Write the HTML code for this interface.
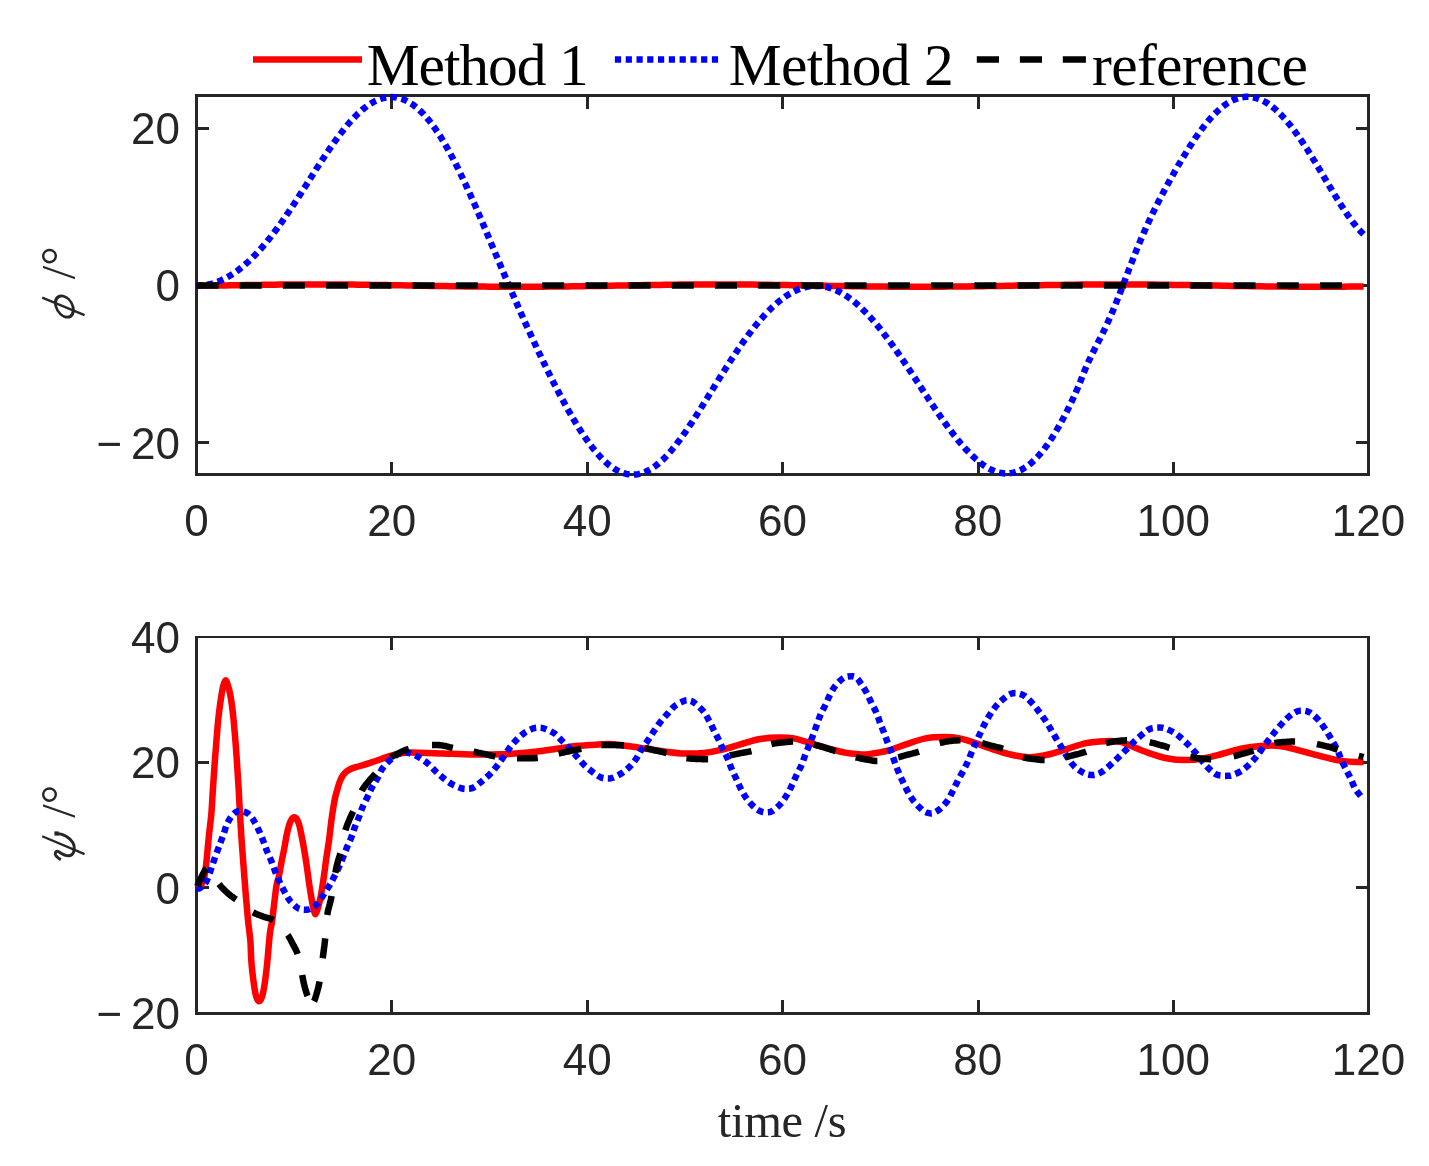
<!DOCTYPE html>
<html><head><meta charset="utf-8"><title>plot</title>
<style>html,body{margin:0;padding:0;background:#fff;width:1429px;height:1166px;overflow:hidden}svg{display:block;will-change:transform}</style>
</head><body>
<svg width="1429" height="1166" viewBox="0 0 1429 1166">
<rect width="1429" height="1166" fill="#fff"/>
<path d="M195,94h1175v3h-1175zM195,473h1175v3h-1175zM195,94h3v382h-3zM1367,94h3v382h-3zM390,97h3v12h-3zM390,462h3v11h-3zM586,97h3v12h-3zM586,462h3v11h-3zM781,97h3v12h-3zM781,462h3v11h-3zM977,97h3v12h-3zM977,462h3v11h-3zM1172,97h3v12h-3zM1172,462h3v11h-3zM198,127h11v3h-11zM1356,127h11v3h-11zM198,284h11v3h-11zM1356,284h11v3h-11zM198,441h11v3h-11zM1356,441h11v3h-11z" fill="#262626" shape-rendering="crispEdges"/>

<path d="M196.5,285.6 L201.4,285.6 L206.3,285.7 L211.2,285.6 L216.0,285.6 L220.9,285.5 L225.8,285.4 L230.7,285.3 L235.6,285.2 L240.4,285.2 L245.3,285.1 L250.2,285.0 L255.1,284.9 L260.0,284.9 L264.9,284.8 L269.8,284.7 L274.6,284.7 L279.5,284.6 L284.4,284.6 L289.3,284.5 L294.2,284.5 L299.1,284.5 L303.9,284.4 L308.8,284.4 L313.7,284.4 L318.6,284.4 L323.5,284.4 L328.4,284.4 L333.2,284.5 L338.1,284.5 L343.0,284.5 L347.9,284.6 L352.8,284.6 L357.6,284.7 L362.5,284.7 L367.4,284.8 L372.3,284.9 L377.2,284.9 L382.1,285.0 L386.9,285.1 L391.8,285.2 L396.7,285.2 L401.6,285.3 L406.5,285.4 L411.4,285.5 L416.2,285.6 L421.1,285.7 L426.0,285.8 L430.9,285.9 L435.8,286.0 L440.7,286.0 L445.6,286.1 L450.4,286.2 L455.3,286.3 L460.2,286.3 L465.1,286.4 L470.0,286.5 L474.9,286.5 L479.7,286.6 L484.6,286.6 L489.5,286.7 L494.4,286.7 L499.3,286.7 L504.1,286.8 L509.0,286.8 L513.9,286.8 L518.8,286.8 L523.7,286.8 L528.6,286.8 L533.5,286.7 L538.3,286.7 L543.2,286.7 L548.1,286.6 L553.0,286.6 L557.9,286.5 L562.8,286.5 L567.6,286.4 L572.5,286.3 L577.4,286.3 L582.3,286.2 L587.2,286.1 L592.0,286.0 L596.9,286.0 L601.8,285.9 L606.7,285.8 L611.6,285.7 L616.5,285.6 L621.4,285.5 L626.2,285.4 L631.1,285.3 L636.0,285.2 L640.9,285.2 L645.8,285.1 L650.6,285.0 L655.5,284.9 L660.4,284.9 L665.3,284.8 L670.2,284.7 L675.1,284.7 L680.0,284.6 L684.8,284.6 L689.7,284.5 L694.6,284.5 L699.5,284.5 L704.4,284.4 L709.2,284.4 L714.1,284.4 L719.0,284.4 L723.9,284.4 L728.8,284.4 L733.7,284.5 L738.5,284.5 L743.4,284.5 L748.3,284.6 L753.2,284.6 L758.1,284.7 L763.0,284.7 L767.9,284.8 L772.7,284.9 L777.6,284.9 L782.5,285.0 L787.4,285.1 L792.3,285.2 L797.1,285.2 L802.0,285.3 L806.9,285.4 L811.8,285.5 L816.7,285.6 L821.6,285.7 L826.5,285.8 L831.3,285.9 L836.2,286.0 L841.1,286.0 L846.0,286.1 L850.9,286.2 L855.8,286.3 L860.6,286.3 L865.5,286.4 L870.4,286.5 L875.3,286.5 L880.2,286.6 L885.0,286.6 L889.9,286.7 L894.8,286.7 L899.7,286.7 L904.6,286.8 L909.5,286.8 L914.4,286.8 L919.2,286.8 L924.1,286.8 L929.0,286.8 L933.9,286.7 L938.8,286.7 L943.6,286.7 L948.5,286.6 L953.4,286.6 L958.3,286.5 L963.2,286.5 L968.1,286.4 L973.0,286.3 L977.8,286.3 L982.7,286.2 L987.6,286.1 L992.5,286.0 L997.4,286.0 L1002.2,285.9 L1007.1,285.8 L1012.0,285.7 L1016.9,285.6 L1021.8,285.5 L1026.7,285.4 L1031.5,285.3 L1036.4,285.2 L1041.3,285.2 L1046.2,285.1 L1051.1,285.0 L1056.0,284.9 L1060.8,284.9 L1065.7,284.8 L1070.6,284.7 L1075.5,284.7 L1080.4,284.6 L1085.3,284.6 L1090.2,284.5 L1095.0,284.5 L1099.9,284.5 L1104.8,284.4 L1109.7,284.4 L1114.6,284.4 L1119.5,284.4 L1124.3,284.4 L1129.2,284.4 L1134.1,284.5 L1139.0,284.5 L1143.9,284.5 L1148.8,284.6 L1153.6,284.6 L1158.5,284.7 L1163.4,284.7 L1168.3,284.8 L1173.2,284.9 L1178.0,284.9 L1182.9,285.0 L1187.8,285.1 L1192.7,285.2 L1197.6,285.2 L1202.5,285.3 L1207.3,285.4 L1212.2,285.5 L1217.1,285.6 L1222.0,285.7 L1226.9,285.8 L1231.8,285.9 L1236.7,286.0 L1241.5,286.0 L1246.4,286.1 L1251.3,286.2 L1256.2,286.3 L1261.1,286.3 L1266.0,286.4 L1270.8,286.5 L1275.7,286.5 L1280.6,286.6 L1285.5,286.6 L1290.4,286.7 L1295.2,286.7 L1300.1,286.7 L1305.0,286.8 L1309.9,286.8 L1314.8,286.8 L1319.7,286.8 L1324.5,286.8 L1329.4,286.8 L1334.3,286.7 L1339.2,286.7 L1344.1,286.7 L1349.0,286.6 L1353.8,286.6 L1358.7,286.5 L1363.6,286.5" fill="none" stroke="#ff0000" stroke-width="6.5" stroke-linejoin="round"/>
<path d="M196.5,285.6 L198.9,285.6 L201.4,285.6 L203.8,285.6 L206.3,285.1 L208.7,284.5 L211.2,283.9 L213.6,283.2 L216.0,282.3 L218.5,281.4 L220.9,280.4 L223.4,279.2 L225.8,278.0 L228.2,276.7 L230.7,275.2 L233.1,273.7 L235.6,272.0 L238.0,270.3 L240.4,268.4 L242.9,266.4 L245.3,264.3 L247.8,262.2 L250.2,259.9 L252.7,257.5 L255.1,255.0 L257.5,252.4 L260.0,249.7 L262.4,247.0 L264.9,244.1 L267.3,241.1 L269.8,238.1 L272.2,234.9 L274.6,231.7 L277.1,228.5 L279.5,225.1 L282.0,221.7 L284.4,218.2 L286.8,214.6 L289.3,211.0 L291.7,207.4 L294.2,203.7 L296.6,199.9 L299.1,196.1 L301.5,192.3 L303.9,188.5 L306.4,184.7 L308.8,180.8 L311.3,177.0 L313.7,173.2 L316.1,169.3 L318.6,165.5 L321.0,161.8 L323.5,158.0 L325.9,154.3 L328.4,150.7 L330.8,147.1 L333.2,143.6 L335.7,140.2 L338.1,136.9 L340.6,133.6 L343.0,130.5 L345.4,127.4 L347.9,124.5 L350.3,121.7 L352.8,119.0 L355.2,116.5 L357.6,114.0 L360.1,111.8 L362.5,109.6 L365.0,107.7 L367.4,105.8 L369.9,104.2 L372.3,102.7 L374.7,101.3 L377.2,100.2 L379.6,99.2 L382.1,98.4 L384.5,97.8 L386.9,97.4 L389.4,97.1 L391.8,97.1 L394.3,97.2 L396.7,97.5 L399.2,98.1 L401.6,98.8 L404.0,99.7 L406.5,100.8 L408.9,102.1 L411.4,103.6 L413.8,105.4 L416.2,107.3 L418.7,109.4 L421.1,111.7 L423.6,114.2 L426.0,116.9 L428.5,119.8 L430.9,122.9 L433.3,126.1 L435.8,129.6 L438.2,133.2 L440.7,137.0 L443.1,141.0 L445.6,145.1 L448.0,149.4 L450.4,153.8 L452.9,158.4 L455.3,163.1 L457.8,168.0 L460.2,173.0 L462.6,178.1 L465.1,183.3 L467.5,188.6 L470.0,194.0 L472.4,199.5 L474.9,205.0 L477.3,210.6 L479.7,216.3 L482.2,222.0 L484.6,227.8 L487.1,233.6 L489.5,239.4 L491.9,245.2 L494.4,251.0 L496.8,256.8 L499.3,262.6 L501.7,268.4 L504.1,274.1 L506.6,279.9 L509.0,285.6 L511.5,291.3 L513.9,297.0 L516.4,302.6 L518.8,308.2 L521.2,313.7 L523.7,319.2 L526.1,324.7 L528.6,330.1 L531.0,335.4 L533.5,340.8 L535.9,346.0 L538.3,351.3 L540.8,356.4 L543.2,361.5 L545.7,366.6 L548.1,371.6 L550.5,376.5 L553.0,381.4 L555.4,386.2 L557.9,390.9 L560.3,395.6 L562.8,400.1 L565.2,404.6 L567.6,409.0 L570.1,413.3 L572.5,417.5 L575.0,421.7 L577.4,425.7 L579.8,429.5 L582.3,433.3 L584.7,436.9 L587.2,440.4 L589.6,443.8 L592.0,447.0 L594.5,450.1 L596.9,453.0 L599.4,455.8 L601.8,458.4 L604.3,460.8 L606.7,463.0 L609.1,465.1 L611.6,466.9 L614.0,468.6 L616.5,470.0 L618.9,471.3 L621.4,472.4 L623.8,473.2 L626.2,473.9 L628.7,474.3 L631.1,474.6 L633.6,474.6 L636.0,474.4 L638.4,474.1 L640.9,473.5 L643.3,472.7 L645.8,471.7 L648.2,470.5 L650.6,469.2 L653.1,467.6 L655.5,465.9 L658.0,463.9 L660.4,461.8 L662.9,459.6 L665.3,457.2 L667.7,454.6 L670.2,451.8 L672.6,449.0 L675.1,446.0 L677.5,442.8 L680.0,439.6 L682.4,436.2 L684.8,432.8 L687.3,429.2 L689.7,425.6 L692.2,421.9 L694.6,418.2 L697.0,414.4 L699.5,410.5 L701.9,406.6 L704.4,402.7 L706.8,398.8 L709.2,394.8 L711.7,390.9 L714.1,386.9 L716.6,383.0 L719.0,379.0 L721.5,375.1 L723.9,371.2 L726.3,367.4 L728.8,363.6 L731.2,359.8 L733.7,356.1 L736.1,352.4 L738.5,348.8 L741.0,345.2 L743.4,341.7 L745.9,338.3 L748.3,335.0 L750.8,331.8 L753.2,328.6 L755.6,325.5 L758.1,322.6 L760.5,319.7 L763.0,316.9 L765.4,314.2 L767.9,311.6 L770.3,309.2 L772.7,306.8 L775.2,304.6 L777.6,302.5 L780.1,300.5 L782.5,298.6 L784.9,296.8 L787.4,295.2 L789.8,293.7 L792.3,292.3 L794.7,291.1 L797.1,290.0 L799.6,289.0 L802.0,288.1 L804.5,287.4 L806.9,286.8 L809.4,286.4 L811.8,286.1 L814.2,285.9 L816.7,285.9 L819.1,285.9 L821.6,286.2 L824.0,286.5 L826.5,287.0 L828.9,287.7 L831.3,288.4 L833.8,289.3 L836.2,290.3 L838.7,291.5 L841.1,292.8 L843.5,294.2 L846.0,295.7 L848.4,297.4 L850.9,299.2 L853.3,301.0 L855.8,303.1 L858.2,305.2 L860.6,307.4 L863.1,309.8 L865.5,312.2 L868.0,314.7 L870.4,317.4 L872.8,320.1 L875.3,323.0 L877.7,325.9 L880.2,328.9 L882.6,332.0 L885.0,335.2 L887.5,338.4 L889.9,341.7 L892.4,345.1 L894.8,348.5 L897.3,352.0 L899.7,355.5 L902.1,359.1 L904.6,362.7 L907.0,366.3 L909.5,370.0 L911.9,373.7 L914.4,377.4 L916.8,381.1 L919.2,384.8 L921.7,388.6 L924.1,392.3 L926.6,396.0 L929.0,399.7 L931.4,403.3 L933.9,407.0 L936.3,410.6 L938.8,414.1 L941.2,417.7 L943.6,421.1 L946.1,424.5 L948.5,427.9 L951.0,431.1 L953.4,434.3 L955.9,437.4 L958.3,440.5 L960.7,443.4 L963.2,446.2 L965.6,449.0 L968.1,451.6 L970.5,454.1 L973.0,456.5 L975.4,458.7 L977.8,460.8 L980.3,462.8 L982.7,464.6 L985.2,466.3 L987.6,467.8 L990.0,469.1 L992.5,470.3 L994.9,471.3 L997.4,472.1 L999.8,472.7 L1002.2,473.1 L1004.7,473.4 L1007.1,473.4 L1009.6,473.3 L1012.0,472.9 L1014.5,472.4 L1016.9,471.6 L1019.3,470.6 L1021.8,469.5 L1024.2,468.1 L1026.7,466.5 L1029.1,464.7 L1031.5,462.7 L1034.0,460.5 L1036.4,458.0 L1038.9,455.4 L1041.3,452.6 L1043.8,449.5 L1046.2,446.3 L1048.6,442.9 L1051.1,439.2 L1053.5,435.4 L1056.0,431.4 L1058.4,427.2 L1060.8,422.9 L1063.3,418.3 L1065.7,413.6 L1068.2,408.8 L1070.6,403.7 L1073.1,398.5 L1075.5,393.1 L1077.9,387.5 L1080.4,381.5 L1082.8,375.2 L1085.3,369.1 L1087.7,363.4 L1090.2,358.2 L1092.6,353.2 L1095.0,348.3 L1097.5,343.5 L1099.9,338.8 L1102.4,333.9 L1104.8,328.8 L1107.2,323.6 L1109.7,318.2 L1112.1,312.6 L1114.6,306.7 L1117.0,300.6 L1119.5,294.4 L1121.9,288.1 L1124.3,281.6 L1126.8,275.2 L1129.2,268.8 L1131.7,262.4 L1134.1,256.2 L1136.5,250.1 L1139.0,244.1 L1141.4,238.2 L1143.9,232.6 L1146.3,227.1 L1148.8,221.7 L1151.2,216.5 L1153.6,211.4 L1156.1,206.5 L1158.5,201.6 L1161.0,196.9 L1163.4,192.3 L1165.8,187.7 L1168.3,183.2 L1170.7,178.8 L1173.2,174.4 L1175.6,170.1 L1178.0,165.9 L1180.5,161.7 L1182.9,157.6 L1185.4,153.6 L1187.8,149.7 L1190.3,145.8 L1192.7,142.1 L1195.1,138.4 L1197.6,134.9 L1200.0,131.5 L1202.5,128.2 L1204.9,125.0 L1207.3,122.0 L1209.8,119.1 L1212.2,116.4 L1214.7,113.9 L1217.1,111.5 L1219.6,109.2 L1222.0,107.2 L1224.4,105.3 L1226.9,103.6 L1229.3,102.1 L1231.8,100.8 L1234.2,99.6 L1236.7,98.7 L1239.1,97.9 L1241.5,97.3 L1244.0,97.0 L1246.4,96.8 L1248.9,96.8 L1251.3,97.0 L1253.7,97.5 L1256.2,98.1 L1258.6,98.9 L1261.1,99.8 L1263.5,101.0 L1266.0,102.4 L1268.4,103.9 L1270.8,105.7 L1273.3,107.6 L1275.7,109.6 L1278.2,111.9 L1280.6,114.3 L1283.0,116.9 L1285.5,119.6 L1287.9,122.5 L1290.4,125.5 L1292.8,128.6 L1295.2,131.9 L1297.7,135.3 L1300.1,138.8 L1302.6,142.4 L1305.0,146.1 L1307.5,149.8 L1309.9,153.7 L1312.3,157.6 L1314.8,161.6 L1317.2,165.6 L1319.7,169.7 L1322.1,173.8 L1324.5,177.9 L1327.0,182.0 L1329.4,186.1 L1331.9,190.2 L1334.3,194.2 L1336.8,198.2 L1339.2,202.1 L1341.6,205.9 L1344.1,209.7 L1346.5,213.3 L1349.0,216.8 L1351.4,220.2 L1353.8,223.4 L1356.3,226.4 L1358.7,229.3 L1361.2,231.9 L1363.6,234.3" fill="none" stroke="#0000ff" stroke-width="6.5" stroke-dasharray="6.3 4.5"/>
<path d="M196.5,285.6h22.0M239.7,285.6h22.0M282.9,285.6h22.0M326.1,285.6h22.0M369.3,285.6h22.0M412.6,285.6h22.0M455.8,285.6h22.0M499.0,285.6h22.0M542.2,285.6h22.0M585.4,285.6h22.0M628.6,285.6h22.0M671.8,285.6h22.0M715.0,285.6h22.0M758.2,285.6h22.0M801.4,285.6h22.0M844.6,285.6h22.0M887.9,285.6h22.0M931.1,285.6h22.0M974.3,285.6h22.0M1017.5,285.6h22.0M1060.7,285.6h22.0M1103.9,285.6h22.0M1147.1,285.6h22.0M1190.3,285.6h22.0M1233.5,285.6h22.0M1276.8,285.6h22.0M1320.0,285.6h22.0" fill="none" stroke="#000000" stroke-width="6.5"/>

<path d="M195,636h1175v2h-1175zM195,1012h1175v3h-1175zM195,636h3v379h-3zM1367,636h3v379h-3zM390,638h3v12h-3zM390,1000h3v12h-3zM586,638h3v12h-3zM586,1000h3v12h-3zM781,638h3v12h-3zM781,1000h3v12h-3zM977,638h3v12h-3zM977,1000h3v12h-3zM1172,638h3v12h-3zM1172,1000h3v12h-3zM198,761h11v3h-11zM1356,761h11v3h-11zM198,886h11v3h-11zM1356,886h11v3h-11z" fill="#262626" shape-rendering="crispEdges"/>

<path d="M196.5,888.0C197.1,887.8 199.3,887.5 200.3,886.5C201.3,885.5 201.8,883.8 202.5,882.0C203.2,880.2 203.9,878.7 204.5,876.0C205.1,873.3 205.6,869.3 206.0,866.0C206.4,862.7 206.5,861.2 207.0,856.0C207.5,850.8 208.3,841.9 209.0,835.0C209.7,828.1 210.6,822.3 211.3,814.5C212.0,806.7 212.4,796.6 213.0,788.0C213.6,779.4 214.1,771.0 214.7,763.0C215.3,755.0 215.9,747.2 216.5,740.0C217.1,732.8 217.6,725.8 218.2,720.0C218.8,714.2 219.4,709.3 220.0,705.0C220.6,700.7 221.0,697.6 221.6,694.3C222.2,691.0 222.8,687.3 223.5,685.0C224.2,682.7 224.8,680.6 225.5,680.4C226.2,680.2 226.7,681.7 227.5,684.0C228.3,686.3 229.4,690.6 230.2,694.3C230.9,698.0 231.4,701.7 232.0,706.0C232.6,710.3 233.0,714.0 233.6,720.0C234.2,726.0 234.9,734.8 235.5,742.0C236.1,749.2 236.5,755.3 237.0,763.0C237.5,770.7 238.1,779.4 238.6,788.0C239.1,796.6 239.5,805.8 240.0,814.5C240.5,823.2 241.1,832.6 241.6,840.0C242.1,847.4 242.4,850.8 243.0,859.1C243.6,867.4 244.6,879.9 245.4,890.0C246.2,900.1 247.2,911.7 248.0,920.0C248.8,928.3 249.7,933.0 250.3,940.0C250.9,947.0 250.8,954.4 251.4,962.0C252.0,969.6 253.3,979.9 254.1,985.6C254.9,991.4 255.4,993.9 256.2,996.5C257.0,999.1 258.1,1001.2 259.1,1001.3C260.1,1001.4 261.1,999.6 262.0,997.0C262.9,994.4 263.5,991.3 264.4,985.6C265.3,979.9 266.3,971.7 267.2,963.0C268.1,954.3 269.1,940.4 269.9,933.4C270.7,926.4 271.0,928.7 272.1,920.8C273.2,912.9 275.3,893.1 276.4,886.0C277.5,878.9 277.6,882.3 278.5,878.3C279.4,874.3 280.6,866.9 281.5,862.0C282.4,857.1 283.4,853.1 284.2,848.8C285.0,844.5 285.7,839.9 286.5,836.0C287.3,832.1 288.2,828.2 289.0,825.5C289.8,822.8 290.6,820.9 291.5,819.5C292.4,818.1 293.3,817.3 294.2,817.3C295.1,817.3 296.1,818.0 297.0,819.5C297.9,821.0 298.7,822.9 299.5,826.0C300.3,829.1 301.2,834.2 302.0,838.0C302.8,841.8 303.2,843.9 304.0,848.8C304.8,853.6 306.0,860.9 306.9,867.1C307.8,873.3 308.6,880.3 309.5,886.0C310.4,891.7 311.3,897.4 312.0,901.4C312.7,905.4 313.2,907.9 313.8,910.0C314.4,912.1 314.8,914.3 315.4,914.3C316.0,914.3 316.6,912.1 317.3,910.0C318.0,907.9 318.9,904.9 319.7,901.4C320.5,897.9 321.3,893.3 322.0,889.0C322.7,884.7 323.2,881.0 324.0,875.7C324.8,870.4 325.6,863.0 326.5,857.0C327.4,851.0 328.3,845.5 329.1,839.7C329.9,833.9 330.5,827.4 331.2,822.0C331.9,816.6 332.7,811.4 333.4,807.1C334.1,802.8 334.8,799.1 335.5,796.0C336.2,792.9 336.9,790.8 337.7,788.3C338.4,785.8 339.1,783.1 340.0,781.0C340.9,778.9 341.8,777.0 342.9,775.4C344.0,773.8 345.1,772.6 346.5,771.5C347.9,770.4 349.1,769.5 351.4,768.6C353.6,767.7 357.1,766.9 360.0,766.0C362.9,765.1 365.8,764.3 368.6,763.4C371.4,762.5 374.1,761.5 377.0,760.5C379.9,759.5 382.9,758.3 385.7,757.4C388.5,756.5 391.1,755.7 394.0,755.0C396.9,754.3 400.3,753.5 402.9,753.1C405.5,752.7 406.5,752.7 409.4,752.6C412.2,752.5 414.3,752.6 420.0,752.8C425.7,752.9 434.8,753.2 443.4,753.5C452.0,753.8 462.3,754.4 471.7,754.5C481.1,754.6 490.6,754.6 500.0,754.3C509.4,754.0 518.9,753.5 528.4,752.6C537.9,751.7 548.8,749.9 556.7,748.8C564.6,747.7 570.1,746.6 575.6,746.0C581.1,745.4 584.5,745.3 590.0,745.0C595.5,744.7 602.6,743.9 608.9,744.1C615.2,744.3 621.5,745.2 627.8,746.0C634.1,746.8 640.4,747.9 646.7,748.8C653.0,749.7 659.3,750.8 665.6,751.6C671.9,752.4 678.2,753.3 684.5,753.5C690.8,753.7 697.1,753.6 703.4,753.0C709.7,752.4 715.9,751.2 722.2,749.7C728.5,748.2 734.8,745.9 741.1,744.1C747.4,742.3 753.7,740.1 760.0,739.0C766.3,737.9 773.2,737.6 778.9,737.5C784.6,737.4 789.3,737.6 794.0,738.4C798.7,739.2 801.9,740.6 807.3,742.2C812.7,743.8 819.9,746.2 826.2,747.9C832.5,749.6 839.5,751.5 845.1,752.6C850.7,753.7 856.0,754.0 860.0,754.3C864.0,754.5 864.3,754.7 868.9,754.1C873.5,753.5 881.5,752.4 887.8,750.7C894.1,749.0 900.4,746.2 906.7,744.1C913.0,742.0 919.3,739.6 925.6,738.4C931.9,737.2 938.8,737.1 944.5,737.1C950.2,737.1 954.9,737.5 959.6,738.4C964.3,739.2 967.4,740.5 972.8,742.2C978.1,743.9 985.4,746.8 991.7,748.8C998.0,750.8 1004.3,753.1 1010.6,754.5C1016.9,755.9 1023.2,757.3 1029.5,757.3C1035.8,757.3 1042.1,755.9 1048.4,754.5C1054.7,753.1 1061.0,750.7 1067.3,748.8C1073.6,746.9 1079.9,744.4 1086.2,743.1C1092.5,741.8 1099.4,741.4 1105.0,741.2C1110.6,741.0 1116.0,741.2 1120.0,741.8C1124.0,742.4 1124.3,743.2 1128.9,745.0C1133.5,746.8 1141.5,750.4 1147.8,752.6C1154.1,754.8 1160.4,757.0 1166.7,758.2C1173.0,759.5 1179.3,760.1 1185.6,760.1C1191.9,760.1 1198.2,759.3 1204.5,758.2C1210.8,757.1 1217.1,755.1 1223.4,753.5C1229.7,751.9 1235.9,749.6 1242.2,748.4C1248.5,747.1 1254.8,746.4 1261.1,746.0C1267.4,745.6 1273.7,745.3 1280.0,746.0C1286.3,746.7 1292.6,748.7 1298.9,750.3C1305.2,751.9 1311.5,753.8 1317.8,755.4C1324.1,757.0 1330.4,759.0 1336.7,760.1C1343.0,761.2 1351.1,761.7 1355.6,762.0C1360.1,762.3 1362.3,762.0 1363.6,762.0" fill="none" stroke="#ff0000" stroke-width="6.5" stroke-linejoin="round"/>
<path d="M196.5,888.0C197.0,888.1 198.2,888.9 199.3,888.5C200.4,888.1 201.8,886.7 203.0,885.5C204.2,884.3 205.2,883.7 206.5,881.2C207.8,878.7 209.4,873.8 210.6,870.4C211.8,867.0 212.7,864.0 213.9,860.6C215.1,857.2 216.6,853.0 217.8,849.8C219.0,846.6 219.9,844.3 220.9,841.5C221.9,838.7 223.1,835.8 224.0,833.0C224.9,830.2 225.6,827.2 226.5,825.0C227.4,822.8 228.3,821.3 229.3,819.6C230.3,817.9 231.3,816.3 232.5,815.0C233.7,813.7 234.9,812.6 236.2,811.9C237.5,811.2 238.8,810.9 240.5,811.0C242.2,811.1 244.8,811.9 246.5,812.7C248.2,813.5 249.2,814.6 250.5,816.0C251.8,817.4 252.7,818.7 254.2,821.3C255.7,823.9 257.8,828.2 259.4,831.6C261.0,835.0 262.3,838.6 263.6,841.9C264.9,845.2 265.8,848.2 267.1,851.4C268.4,854.6 270.1,858.0 271.4,861.3C272.7,864.6 273.8,868.0 275.0,871.0C276.2,874.0 277.0,876.2 278.5,879.5C280.0,882.8 282.2,887.5 284.1,891.0C286.0,894.5 287.7,897.8 289.8,900.5C291.9,903.2 294.9,906.0 296.9,907.5C298.9,909.0 300.3,909.2 302.0,909.6C303.7,910.0 305.4,909.9 306.9,909.7C308.4,909.5 309.3,909.5 311.0,908.5C312.7,907.5 315.1,906.2 317.1,904.0C319.1,901.8 321.1,898.4 323.1,895.4C325.1,892.4 327.2,889.1 329.1,886.0C331.0,882.9 332.4,880.3 334.3,876.6C336.2,872.9 338.3,868.6 340.3,864.0C342.3,859.4 344.5,853.5 346.3,849.0C348.1,844.5 350.0,840.8 351.4,837.1C352.8,833.4 353.6,830.3 354.9,826.9C356.2,823.5 357.8,819.9 359.1,816.6C360.4,813.3 361.2,810.5 362.6,807.1C364.0,803.8 366.1,799.8 367.7,796.5C369.3,793.2 370.4,790.3 372.0,787.4C373.6,784.5 375.4,782.0 377.1,778.9C378.8,775.8 380.3,771.6 382.3,768.6C384.3,765.6 387.0,763.0 389.1,760.9C391.2,758.8 393.3,757.2 395.0,756.0C396.7,754.8 397.8,754.1 399.4,753.5C401.0,752.9 402.8,752.6 404.5,752.6C406.2,752.6 407.3,752.4 409.7,753.2C412.1,754.0 415.7,755.5 418.8,757.3C421.9,759.1 425.4,761.5 428.2,763.9C431.0,766.3 433.3,769.1 435.8,771.5C438.3,773.9 440.6,775.9 443.4,778.1C446.2,780.3 449.6,783.0 452.8,784.7C456.0,786.4 459.8,787.8 462.3,788.5C464.8,789.2 466.1,789.0 468.0,788.8C469.9,788.6 471.4,788.6 473.6,787.5C475.8,786.4 478.3,784.2 481.1,781.9C483.9,779.5 487.5,776.7 490.6,773.4C493.8,770.1 496.9,766.2 500.0,762.0C503.1,757.8 506.7,751.8 509.5,748.0C512.3,744.2 514.5,741.9 517.0,739.4C519.5,736.9 521.8,734.6 524.6,732.7C527.4,730.8 531.4,729.0 534.0,728.2C536.6,727.4 538.1,727.7 540.0,727.8C541.9,727.9 542.9,728.0 545.4,729.0C547.9,730.0 552.0,731.7 554.8,733.7C557.6,735.7 559.9,738.7 562.4,741.2C564.9,743.7 567.4,746.2 569.9,748.9C572.4,751.6 575.0,754.5 577.5,757.3C580.0,760.1 582.3,763.1 585.1,765.8C587.9,768.5 591.8,771.4 594.5,773.4C597.2,775.4 599.2,776.8 601.3,777.6C603.4,778.5 605.1,778.5 607.0,778.5C608.9,778.5 610.2,778.7 612.7,777.8C615.2,776.9 619.1,775.0 622.1,773.0C625.1,771.0 628.1,768.4 630.6,765.8C633.1,763.2 635.3,760.2 637.2,757.3C639.1,754.4 640.1,751.5 642.0,748.5C643.9,745.5 646.6,742.4 648.6,739.4C650.6,736.4 652.2,733.8 654.2,730.8C656.2,727.8 658.6,724.2 660.8,721.4C663.0,718.6 665.1,716.4 667.5,713.8C669.9,711.2 672.2,708.0 675.0,705.8C677.8,703.6 682.1,701.7 684.5,700.8C686.9,699.9 687.8,700.2 689.5,700.6C691.2,701.0 692.6,701.4 694.9,703.2C697.2,705.0 701.0,708.5 703.4,711.4C705.8,714.3 707.3,717.4 709.0,720.5C710.7,723.6 712.1,726.8 713.7,729.9C715.3,733.0 716.9,736.1 718.5,739.4C720.1,742.7 721.6,746.4 723.2,749.7C724.8,753.0 726.5,756.0 727.9,759.2C729.3,762.4 730.3,765.7 731.7,769.0C733.1,772.3 734.8,775.6 736.4,779.0C738.0,782.4 739.4,786.1 741.1,789.4C742.8,792.7 744.8,796.1 746.8,798.9C748.8,801.7 751.5,804.5 753.4,806.4C755.3,808.2 756.4,809.0 758.0,810.0C759.6,811.0 761.3,811.7 762.9,812.1C764.5,812.5 765.9,812.5 767.5,812.3C769.1,812.1 770.1,812.5 772.3,811.1C774.5,809.7 778.3,806.4 780.8,803.6C783.3,800.8 785.5,797.2 787.4,794.1C789.3,791.0 790.6,788.0 792.2,784.7C793.8,781.4 795.3,777.6 796.9,774.3C798.5,771.0 800.2,768.2 801.6,764.9C803.0,761.6 804.1,757.8 805.4,754.5C806.7,751.2 808.0,748.1 809.2,745.0C810.5,741.9 811.6,738.9 812.9,735.6C814.1,732.3 815.4,728.7 816.7,725.2C818.0,721.7 819.1,718.1 820.5,714.8C821.9,711.5 823.6,708.6 825.2,705.3C826.8,702.0 828.2,698.3 829.9,695.0C831.6,691.7 833.4,688.3 835.6,685.5C837.8,682.7 841.1,679.7 843.2,678.2C845.3,676.7 846.4,676.8 848.0,676.5C849.6,676.2 851.1,676.0 852.6,676.3C854.1,676.6 855.5,676.9 857.0,678.2C858.5,679.5 859.6,681.6 861.3,684.1C863.0,686.6 865.3,690.3 867.0,693.5C868.7,696.7 870.1,700.3 871.7,703.5C873.3,706.7 875.1,709.6 876.5,712.9C877.9,716.2 879.0,720.0 880.2,723.3C881.5,726.6 882.7,729.4 884.0,732.7C885.3,736.0 886.5,739.8 887.8,743.1C889.1,746.4 890.4,749.1 891.6,752.6C892.9,756.1 894.0,760.3 895.3,763.9C896.6,767.5 898.1,771.0 899.5,774.3C900.9,777.6 902.3,780.6 903.8,783.7C905.3,786.9 906.9,790.2 908.6,793.2C910.3,796.2 912.0,799.0 914.2,801.7C916.4,804.4 919.8,807.7 921.8,809.5C923.8,811.3 924.9,811.9 926.5,812.5C928.1,813.1 929.7,813.5 931.2,813.4C932.7,813.3 933.9,812.9 935.5,812.0C937.1,811.1 938.6,810.3 940.7,808.3C942.8,806.3 946.2,802.8 948.2,799.8C950.2,796.8 951.4,793.5 953.0,790.4C954.6,787.2 956.0,784.2 957.7,780.9C959.4,777.6 961.7,773.8 963.4,770.5C965.1,767.2 966.7,764.2 968.1,761.1C969.5,758.0 970.5,754.9 971.9,751.6C973.3,748.3 975.0,744.7 976.6,741.2C978.2,737.7 979.7,734.1 981.3,730.8C982.9,727.5 984.3,724.5 986.0,721.4C987.7,718.3 989.7,715.0 991.7,712.0C993.8,709.0 995.9,706.0 998.3,703.5C1000.7,701.0 1003.8,698.4 1005.9,696.8C1008.0,695.2 1009.3,694.4 1011.0,693.8C1012.7,693.2 1014.6,693.0 1016.3,693.1C1018.0,693.2 1019.4,693.6 1021.0,694.2C1022.6,694.8 1023.7,695.1 1025.7,696.8C1027.8,698.5 1030.9,701.7 1033.3,704.4C1035.7,707.1 1037.7,709.9 1039.9,712.9C1042.1,715.9 1044.5,719.1 1046.5,722.3C1048.5,725.4 1050.3,728.6 1052.2,731.8C1054.1,734.9 1055.9,738.1 1057.8,741.2C1059.7,744.4 1061.6,747.6 1063.5,750.7C1065.4,753.9 1067.2,757.3 1069.2,760.1C1071.2,762.9 1073.3,765.5 1075.8,767.7C1078.3,769.9 1082.0,772.0 1084.3,773.2C1086.6,774.4 1087.8,774.5 1089.5,774.8C1091.2,775.1 1093.0,775.2 1094.7,774.9C1096.5,774.6 1098.3,773.9 1100.0,773.0C1101.7,772.1 1102.9,771.3 1105.0,769.6C1107.1,767.9 1110.0,765.4 1112.6,763.0C1115.2,760.6 1117.8,757.9 1120.4,755.4C1123.0,752.9 1125.5,750.4 1128.0,747.9C1130.5,745.4 1132.8,742.8 1135.5,740.3C1138.2,737.8 1141.8,734.8 1144.0,733.0C1146.2,731.2 1147.4,730.1 1149.0,729.3C1150.6,728.5 1151.8,728.3 1153.5,728.0C1155.2,727.7 1157.1,727.6 1159.0,727.6C1160.9,727.6 1162.3,727.4 1164.8,728.3C1167.3,729.1 1171.2,730.9 1174.2,732.7C1177.2,734.6 1180.0,737.0 1182.7,739.4C1185.4,741.8 1187.8,744.2 1190.3,746.9C1192.8,749.6 1195.5,752.6 1197.9,755.4C1200.3,758.2 1202.2,761.2 1204.5,763.9C1206.8,766.6 1209.9,769.7 1212.0,771.5C1214.1,773.3 1215.3,774.1 1217.0,774.8C1218.7,775.5 1220.6,775.6 1222.4,775.8C1224.2,776.0 1226.3,775.9 1228.0,775.8C1229.7,775.7 1230.4,775.9 1232.8,775.0C1235.2,774.1 1239.2,772.5 1242.2,770.5C1245.2,768.5 1248.3,765.5 1250.8,763.0C1253.3,760.5 1255.2,758.2 1257.4,755.4C1259.6,752.6 1261.8,749.0 1264.0,746.0C1266.2,743.0 1268.4,740.3 1270.6,737.5C1272.8,734.7 1274.8,731.8 1277.2,729.0C1279.6,726.2 1282.3,723.0 1284.8,720.5C1287.3,718.0 1290.2,715.5 1292.3,714.0C1294.4,712.5 1295.8,711.8 1297.5,711.2C1299.2,710.6 1301.0,710.6 1302.7,710.6C1304.4,710.6 1305.9,710.9 1307.5,711.5C1309.1,712.1 1310.2,712.4 1312.2,714.0C1314.2,715.6 1317.4,718.6 1319.7,721.4C1322.0,724.2 1324.2,727.6 1326.3,730.8C1328.3,733.9 1330.1,737.0 1332.0,740.3C1333.9,743.6 1336.1,747.4 1337.7,750.7C1339.3,754.0 1340.0,757.0 1341.4,760.1C1342.8,763.2 1344.6,766.5 1346.2,769.6C1347.8,772.8 1349.3,775.7 1350.9,779.0C1352.5,782.3 1353.5,786.0 1355.6,789.4C1357.7,792.8 1362.3,797.8 1363.6,799.5" fill="none" stroke="#0000ff" stroke-width="6.5" stroke-dasharray="6.3 4.5"/>
<path d="M197.3,886.2 L197.6,885.4 L198.0,884.5 L198.4,883.6 L198.9,882.6 L199.3,881.6 L199.7,880.7 L200.2,879.7 L200.6,878.8 L201.0,878.0 L201.4,877.2 L201.8,876.3 L202.2,875.5 L202.7,874.6 L203.1,873.7 L203.5,872.9 L204.0,872.0 L204.4,871.3 L204.8,870.5 L205.2,869.9 L205.6,869.3 L206.0,868.8 L206.4,868.4M219.1,884.0 L219.7,884.8 L220.2,885.5 L220.9,886.3 L221.5,887.0 L222.1,887.7 L222.8,888.4 L223.5,889.1 L224.2,889.8 L224.9,890.5 L225.6,891.2 L226.3,891.8 L227.0,892.5 L227.7,893.1 L228.4,893.8 L229.2,894.4 L230.0,895.0 L230.7,895.6 L231.5,896.2 L232.3,896.7 L233.0,897.3 L233.8,897.9 L234.5,898.4 L235.3,899.0 L236.0,899.5M253.0,912.3 L253.8,912.7 L254.6,913.2 L255.4,913.5 L256.2,913.9 L257.1,914.3 L257.9,914.6 L258.7,914.9 L259.6,915.2 L260.4,915.6 L261.3,915.9 L262.1,916.2 L263.0,916.5 L263.9,916.8 L264.8,917.1 L265.7,917.4 L266.6,917.6 L267.5,917.9 L268.5,918.1 L269.4,918.4 L270.3,918.7 L271.1,919.0 L272.0,919.3 L272.8,919.6 L273.5,920.0M287.7,935.0 L288.2,935.7 L288.7,936.4 L289.1,937.1 L289.5,937.8 L289.9,938.5 L290.3,939.2 L290.6,939.8 L291.0,940.5 L291.3,941.2 L291.7,942.0 L292.1,942.7 L292.5,943.5 L292.9,944.3 L293.4,945.1 L293.8,945.9 L294.3,946.8 L294.7,947.7 L295.2,948.5 L295.6,949.4 L296.1,950.3 L296.5,951.2 L296.9,952.1 L297.3,953.1 L297.6,954.0M302.2,975.0 L302.5,976.6 L302.8,978.2 L303.1,979.8 L303.4,981.3 L303.7,982.7 L304.0,984.0 L304.3,985.2 L304.6,986.4 L304.9,987.6 L305.2,988.7 L305.5,989.7 L305.8,990.7 L306.1,991.7 L306.4,992.6 L306.7,993.5 L306.9,994.4 L307.2,995.2 L307.5,996.0M314.0,1001.3 L314.3,1000.7 L314.6,1000.0 L314.9,999.2 L315.2,998.4 L315.5,997.5 L315.7,996.6 L316.0,995.7 L316.3,994.8 L316.5,993.9 L316.8,993.0 L317.0,992.2 L317.3,991.3 L317.5,990.5 L317.7,989.7 L318.0,988.9 L318.2,988.1 L318.4,987.2 L318.6,986.2 L318.8,985.2 L319.0,984.1 L319.3,982.9 L319.5,981.6M322.7,958.2 L323.0,956.4 L323.2,954.6 L323.4,952.9 L323.7,951.1 L323.9,949.3 L324.1,947.5 L324.4,945.7 L324.6,943.9 L324.8,942.1 L325.0,940.3 L325.2,938.4M327.3,915.0 L327.5,913.7 L327.7,912.5 L327.8,911.5 L328.0,910.6 L328.2,909.8 L328.4,909.1 L328.6,908.4 L328.8,907.8 L329.0,907.1 L329.1,906.5 L329.3,905.8 L329.5,905.0 L329.7,904.3 L329.8,903.6 L330.0,903.0 L330.2,902.4 L330.3,901.8 L330.5,901.2 L330.6,900.6 L330.8,899.9 L331.0,899.1 L331.2,898.2 L331.4,897.2 L331.6,896.0M335.3,872.7 L335.6,871.5 L335.8,870.5 L336.0,869.5 L336.1,868.6 L336.3,867.8 L336.5,867.0 L336.7,866.2 L336.9,865.5 L337.1,864.7 L337.3,863.9 L337.5,863.0 L337.7,862.1 L338.0,861.2 L338.2,860.4 L338.5,859.5 L338.7,858.7 L339.0,857.8 L339.3,857.0 L339.5,856.1 L339.8,855.3 L340.0,854.4 L340.3,853.5M345.4,830.3 L345.7,829.4 L345.9,828.6 L346.2,827.8 L346.5,826.9 L346.8,826.1 L347.1,825.3 L347.4,824.5 L347.7,823.7 L348.0,822.9 L348.4,822.1 L348.7,821.3 L349.0,820.5 L349.3,819.7 L349.7,819.0 L350.0,818.2 L350.3,817.5 L350.7,816.8 L351.0,816.0 L351.3,815.3 L351.7,814.6 L352.0,813.8 L352.4,813.0 L352.7,812.2 L353.1,811.4M361.7,790.9 L362.1,790.1 L362.6,789.4 L363.1,788.6 L363.6,787.9 L364.1,787.1 L364.6,786.4 L365.2,785.7 L365.7,784.9 L366.3,784.2 L366.9,783.4 L367.4,782.7 L368.0,782.0 L368.6,781.3 L369.2,780.6 L369.8,779.9 L370.4,779.2 L371.0,778.5 L371.6,777.8 L372.3,777.2 L372.9,776.5 L373.5,775.8 L374.2,775.1 L374.8,774.4 L375.4,773.7M390.9,757.4 L391.6,756.9 L392.4,756.4 L393.1,756.0 L393.9,755.5 L394.7,755.1 L395.4,754.7 L396.2,754.3 L397.0,753.9 L397.7,753.6 L398.5,753.2 L399.2,752.9 L400.0,752.5 L400.7,752.2 L401.5,751.8 L402.2,751.5 L402.9,751.2 L403.6,750.8 L404.3,750.5 L405.0,750.2 L405.8,750.0 L406.5,749.7 L407.3,749.4 L408.1,749.2 L408.9,748.9M432.0,745.0 L432.9,745.0 L433.8,744.9 L434.7,744.9 L435.6,744.9 L436.5,745.0 L437.4,745.0 L438.2,745.1 L439.1,745.1 L439.9,745.2 L440.8,745.3 L441.6,745.4 L442.5,745.5 L443.4,745.6 L444.2,745.8 L445.1,746.0 L446.0,746.2 L446.8,746.4 L447.7,746.6 L448.5,746.8 L449.4,747.1 L450.2,747.3 L451.1,747.5 L451.9,747.7 L452.8,747.9M473.6,751.6 L474.5,751.8 L475.4,752.0 L476.3,752.2 L477.2,752.4 L478.1,752.6 L479.0,752.8 L480.0,753.0 L480.9,753.2 L481.8,753.4 L482.7,753.6 L483.6,753.8 L484.5,754.0 L485.4,754.2 L486.3,754.4 L487.2,754.6 L488.1,754.8 L489.0,755.0 L489.9,755.3 L490.8,755.5 L491.7,755.7 L492.6,755.9 L493.5,756.1 L494.4,756.2 L495.3,756.4M517.0,758.2 L517.9,758.2 L518.8,758.2 L519.7,758.3 L520.5,758.3 L521.4,758.3 L522.3,758.3 L523.2,758.3 L524.0,758.3 L524.9,758.3 L525.8,758.3 L526.6,758.3 L527.5,758.3 L528.4,758.3 L529.2,758.3 L530.1,758.3 L531.0,758.3 L531.8,758.2 L532.7,758.2 L533.5,758.2 L534.4,758.2 L535.2,758.1 L536.1,758.1 L536.9,758.0 L537.8,757.9M558.6,753.5 L559.5,753.3 L560.5,753.1 L561.4,752.9 L562.3,752.7 L563.3,752.5 L564.3,752.3 L565.2,752.1 L566.2,751.9 L567.1,751.7 L568.1,751.5 L569.1,751.3 L570.0,751.1 L571.0,750.9 L571.9,750.7 L572.9,750.5 L573.8,750.3 L574.8,750.1 L575.8,749.9 L576.7,749.8 L577.7,749.6 L578.6,749.4 L579.5,749.2 L580.4,749.0 L581.3,748.8M601.3,745.0 L602.2,745.0 L603.1,744.9 L604.0,744.9 L605.0,744.9 L605.9,744.9 L606.8,744.9 L607.8,745.0 L608.7,745.0 L609.7,745.0 L610.6,745.1 L611.6,745.1 L612.5,745.1 L613.5,745.1 L614.4,745.1 L615.4,745.1 L616.3,745.2 L617.3,745.2 L618.3,745.2 L619.3,745.2 L620.2,745.3 L621.2,745.3 L622.1,745.3 L623.1,745.4 L624.0,745.4M644.8,747.9 L645.7,748.1 L646.6,748.3 L647.4,748.5 L648.3,748.7 L649.2,748.9 L650.1,749.1 L651.0,749.4 L651.9,749.6 L652.8,749.8 L653.7,750.1 L654.6,750.3 L655.5,750.5 L656.4,750.7 L657.3,750.9 L658.3,751.1 L659.2,751.3 L660.1,751.5 L661.0,751.7 L662.0,751.9 L662.9,752.1 L663.8,752.3 L664.7,752.5 L665.6,752.8 L666.5,753.0M686.4,758.2 L687.3,758.3 L688.1,758.4 L689.0,758.5 L689.9,758.5 L690.7,758.6 L691.6,758.7 L692.5,758.7 L693.4,758.7 L694.3,758.8 L695.2,758.8 L696.1,758.9 L697.0,758.9 L697.9,758.9 L698.8,759.0 L699.7,759.0 L700.7,759.1 L701.6,759.1 L702.5,759.2 L703.5,759.2 L704.4,759.2 L705.3,759.3 L706.3,759.3 L707.2,759.2 L708.1,759.2M729.8,755.4 L730.7,755.2 L731.6,755.0 L732.5,754.8 L733.4,754.6 L734.3,754.5 L735.1,754.3 L736.0,754.1 L736.9,753.9 L737.8,753.7 L738.7,753.6 L739.6,753.4 L740.5,753.2 L741.4,753.0 L742.3,752.9 L743.3,752.7 L744.2,752.5 L745.1,752.4 L746.0,752.2 L747.0,752.1 L747.9,751.9 L748.8,751.7 L749.7,751.5 L750.6,751.3 L751.5,751.1M771.4,744.1 L772.3,743.9 L773.1,743.7 L774.0,743.6 L774.9,743.4 L775.7,743.3 L776.6,743.1 L777.5,743.0 L778.4,742.9 L779.3,742.8 L780.2,742.7 L781.1,742.6 L782.0,742.5 L782.9,742.4 L783.8,742.3 L784.8,742.2 L785.7,742.1 L786.6,742.0 L787.6,741.9 L788.5,741.8 L789.4,741.7 L790.4,741.7 L791.3,741.6 L792.2,741.6 L793.1,741.6M813.9,744.6 L814.8,744.8 L815.6,745.0 L816.5,745.3 L817.4,745.5 L818.3,745.7 L819.2,746.0 L820.0,746.2 L820.9,746.5 L821.8,746.7 L822.7,747.0 L823.6,747.2 L824.5,747.5 L825.4,747.8 L826.3,748.1 L827.3,748.4 L828.2,748.7 L829.2,749.0 L830.1,749.3 L831.1,749.6 L832.0,749.9 L832.9,750.2 L833.8,750.5 L834.7,750.8 L835.6,751.1M855.7,757.3 L856.6,757.5 L857.5,757.7 L858.4,757.9 L859.3,758.1 L860.2,758.3 L861.1,758.5 L862.0,758.7 L862.9,758.8 L863.8,759.0 L864.7,759.2 L865.6,759.3 L866.5,759.5 L867.4,759.7 L868.3,759.8 L869.2,760.0 L870.1,760.2 L871.0,760.4 L872.0,760.5 L872.9,760.7 L873.8,760.8 L874.7,760.9 L875.6,761.0 L876.5,761.1 L877.4,761.1M898.2,757.3 L899.1,757.1 L899.9,756.9 L900.8,756.6 L901.6,756.4 L902.5,756.2 L903.3,755.9 L904.2,755.7 L905.0,755.5 L905.9,755.2 L906.8,755.0 L907.6,754.7 L908.5,754.5 L909.4,754.3 L910.2,754.0 L911.1,753.8 L912.0,753.6 L912.9,753.4 L913.7,753.2 L914.6,753.0 L915.5,752.7 L916.4,752.5 L917.2,752.2 L918.1,751.9 L919.0,751.6M939.7,743.1 L940.6,742.9 L941.4,742.7 L942.3,742.5 L943.1,742.3 L944.0,742.1 L944.8,741.9 L945.7,741.7 L946.5,741.5 L947.4,741.4 L948.3,741.3 L949.1,741.1 L950.0,741.0 L950.9,740.9 L951.7,740.8 L952.6,740.7 L953.5,740.6 L954.3,740.5 L955.2,740.5 L956.1,740.4 L957.0,740.4 L957.8,740.3 L958.7,740.3 L959.6,740.3 L960.5,740.3M982.2,743.1 L983.1,743.3 L983.9,743.5 L984.8,743.8 L985.7,744.0 L986.5,744.3 L987.4,744.5 L988.2,744.8 L989.1,745.0 L989.9,745.3 L990.8,745.5 L991.6,745.8 L992.5,746.0 L993.4,746.2 L994.2,746.5 L995.1,746.7 L996.0,746.9 L996.9,747.1 L997.8,747.3 L998.7,747.5 L999.5,747.7 L1000.4,748.0 L1001.3,748.2 L1002.1,748.5 L1003.0,748.8M1022.9,757.3 L1023.8,757.5 L1024.6,757.7 L1025.5,757.9 L1026.4,758.0 L1027.2,758.2 L1028.1,758.3 L1029.0,758.4 L1029.9,758.6 L1030.8,758.7 L1031.7,758.8 L1032.6,758.9 L1033.5,759.0 L1034.4,759.1 L1035.3,759.2 L1036.3,759.4 L1037.2,759.5 L1038.1,759.6 L1039.1,759.7 L1040.0,759.8 L1040.9,759.9 L1041.9,760.0 L1042.8,760.0 L1043.7,760.1 L1044.6,760.1M1065.4,757.3 L1066.3,757.1 L1067.2,756.9 L1068.0,756.6 L1068.9,756.4 L1069.8,756.2 L1070.7,755.9 L1071.6,755.7 L1072.5,755.5 L1073.4,755.2 L1074.3,755.0 L1075.1,754.7 L1076.0,754.5 L1076.9,754.3 L1077.7,754.0 L1078.6,753.8 L1079.4,753.6 L1080.3,753.4 L1081.2,753.2 L1082.0,752.9 L1082.8,752.7 L1083.7,752.4 L1084.5,752.2 L1085.4,751.9 L1086.2,751.6M1106.0,743.1 L1106.8,742.9 L1107.7,742.7 L1108.5,742.5 L1109.3,742.3 L1110.1,742.1 L1110.9,742.0 L1111.8,741.8 L1112.6,741.7 L1113.4,741.6 L1114.3,741.4 L1115.1,741.3 L1116.0,741.2 L1116.9,741.1 L1117.8,741.0 L1118.7,740.9 L1119.6,740.8 L1120.5,740.7 L1121.4,740.6 L1122.3,740.5 L1123.3,740.5 L1124.2,740.4 L1125.1,740.4 L1126.1,740.3 L1127.0,740.3M1149.7,742.2 L1150.6,742.4 L1151.4,742.6 L1152.2,742.8 L1153.1,743.0 L1153.9,743.2 L1154.7,743.4 L1155.5,743.6 L1156.3,743.9 L1157.1,744.1 L1157.9,744.3 L1158.7,744.6 L1159.5,744.8 L1160.3,745.0 L1161.1,745.3 L1162.0,745.5 L1162.8,745.7 L1163.6,746.0 L1164.5,746.2 L1165.3,746.5 L1166.1,746.7 L1167.0,747.0 L1167.8,747.3 L1168.6,747.6 L1169.5,747.9M1190.3,756.7 L1191.2,756.9 L1192.0,757.2 L1192.8,757.3 L1193.7,757.5 L1194.5,757.7 L1195.4,757.8 L1196.2,757.9 L1197.1,758.1 L1197.9,758.2 L1198.8,758.3 L1199.6,758.4 L1200.5,758.5 L1201.4,758.6 L1202.2,758.7 L1203.1,758.8 L1204.0,758.9 L1204.8,758.9 L1205.7,759.0 L1206.6,759.1 L1207.5,759.1 L1208.4,759.1 L1209.3,759.2 L1210.2,759.2 L1211.1,759.2M1233.7,756.4 L1234.6,756.2 L1235.4,756.0 L1236.2,755.7 L1237.1,755.5 L1237.9,755.2 L1238.7,755.0 L1239.5,754.7 L1240.3,754.5 L1241.1,754.2 L1241.9,754.0 L1242.7,753.7 L1243.5,753.5 L1244.3,753.3 L1245.2,753.0 L1246.0,752.8 L1246.8,752.6 L1247.7,752.4 L1248.5,752.2 L1249.4,752.0 L1250.2,751.7 L1251.0,751.5 L1251.9,751.2 L1252.7,751.0 L1253.6,750.7M1274.4,743.1 L1275.3,742.9 L1276.1,742.8 L1276.9,742.6 L1277.8,742.5 L1278.6,742.4 L1279.4,742.4 L1280.3,742.3 L1281.1,742.2 L1281.9,742.2 L1282.8,742.1 L1283.6,742.1 L1284.5,742.0 L1285.4,741.9 L1286.2,741.9 L1287.1,741.8 L1288.0,741.8 L1288.9,741.7 L1289.8,741.7 L1290.6,741.6 L1291.5,741.6 L1292.4,741.6 L1293.3,741.6 L1294.2,741.6 L1295.1,741.6M1316.9,744.1 L1317.8,744.3 L1318.7,744.4 L1319.6,744.6 L1320.5,744.8 L1321.4,745.0 L1322.2,745.2 L1323.1,745.4 L1324.0,745.6 L1324.9,745.8 L1325.8,746.0 L1326.6,746.3 L1327.5,746.5 L1328.4,746.7 L1329.2,747.0 L1330.0,747.2 L1330.9,747.5 L1331.7,747.7 L1332.5,748.0 L1333.3,748.3 L1334.2,748.6 L1335.0,748.8 L1335.9,749.1 L1336.8,749.4 L1337.7,749.7M1358.8,755.8 L1360.0,756.1 L1361.1,756.4 L1362.1,756.6 L1362.9,756.8 L1363.6,757.0" fill="none" stroke="#000000" stroke-width="6.5"/>

<text x="180.0" y="144.3" text-anchor="end" font-family="Liberation Sans, sans-serif" font-size="44" fill="#262626">20</text>
<text x="180.0" y="301.4" text-anchor="end" font-family="Liberation Sans, sans-serif" font-size="44" fill="#262626">0</text>
<text x="180.0" y="458.5" text-anchor="end" font-family="Liberation Sans, sans-serif" font-size="44" fill="#262626">&#8722;&#8201;20</text>
<text x="180.0" y="652.8" text-anchor="end" font-family="Liberation Sans, sans-serif" font-size="44" fill="#262626">40</text>
<text x="180.0" y="778.3" text-anchor="end" font-family="Liberation Sans, sans-serif" font-size="44" fill="#262626">20</text>
<text x="180.0" y="903.8" text-anchor="end" font-family="Liberation Sans, sans-serif" font-size="44" fill="#262626">0</text>
<text x="180.0" y="1029.3" text-anchor="end" font-family="Liberation Sans, sans-serif" font-size="44" fill="#262626">&#8722;&#8201;20</text>
<text x="196.5" y="536" text-anchor="middle" font-family="Liberation Sans, sans-serif" font-size="44" fill="#262626">0</text>
<text x="196.5" y="1075" text-anchor="middle" font-family="Liberation Sans, sans-serif" font-size="44" fill="#262626">0</text>
<text x="391.8" y="536" text-anchor="middle" font-family="Liberation Sans, sans-serif" font-size="44" fill="#262626">20</text>
<text x="391.8" y="1075" text-anchor="middle" font-family="Liberation Sans, sans-serif" font-size="44" fill="#262626">20</text>
<text x="587.2" y="536" text-anchor="middle" font-family="Liberation Sans, sans-serif" font-size="44" fill="#262626">40</text>
<text x="587.2" y="1075" text-anchor="middle" font-family="Liberation Sans, sans-serif" font-size="44" fill="#262626">40</text>
<text x="782.5" y="536" text-anchor="middle" font-family="Liberation Sans, sans-serif" font-size="44" fill="#262626">60</text>
<text x="782.5" y="1075" text-anchor="middle" font-family="Liberation Sans, sans-serif" font-size="44" fill="#262626">60</text>
<text x="977.8" y="536" text-anchor="middle" font-family="Liberation Sans, sans-serif" font-size="44" fill="#262626">80</text>
<text x="977.8" y="1075" text-anchor="middle" font-family="Liberation Sans, sans-serif" font-size="44" fill="#262626">80</text>
<text x="1173.2" y="536" text-anchor="middle" font-family="Liberation Sans, sans-serif" font-size="44" fill="#262626">100</text>
<text x="1173.2" y="1075" text-anchor="middle" font-family="Liberation Sans, sans-serif" font-size="44" fill="#262626">100</text>
<text x="1368.5" y="536" text-anchor="middle" font-family="Liberation Sans, sans-serif" font-size="44" fill="#262626">120</text>
<text x="1368.5" y="1075" text-anchor="middle" font-family="Liberation Sans, sans-serif" font-size="44" fill="#262626">120</text>
<text x="782.2" y="1137" text-anchor="middle" textLength="128.8" lengthAdjust="spacing" font-family="Liberation Serif, serif" font-size="48.5" fill="#262626">time /s</text>
<g transform="translate(75.2,285) rotate(-90)"><text x="5.7" y="0" font-family="Liberation Serif, serif" font-size="48.5" fill="#262626">/&#xb0;</text></g>
<g transform="translate(75.2,825) rotate(-90)"><text x="7.3" y="0" font-family="Liberation Serif, serif" font-size="48.5" fill="#262626">/&#xb0;</text></g>
<path d="M42.2,297.6L84.6,315.1" stroke="#262626" stroke-width="2.3" fill="none"/>
<ellipse cx="0" cy="0" rx="8.5" ry="10.7" transform="translate(64.4,306.5) skewX(15.1)" stroke="#262626" stroke-width="2.8" fill="none"/>
<path d="M42.2,836.3L84.6,854.1" stroke="#262626" stroke-width="2.3" fill="none"/>
<path d="M57,833.4C63.5,834 69.5,837.5 72.8,842.5C75.2,846.5 74.8,852 71.8,854.8C68.5,857.2 63,854.5 59.5,852.2C56.5,850.3 55,851.5 55.4,854.2C55.8,856.5 58.5,858.3 60.8,859.6" stroke="#262626" stroke-width="3" fill="none" stroke-linejoin="round"/>
<rect x="54.4" y="831.4" width="4.3" height="4.2" fill="#262626"/>
<path d="M253,59.4H362" stroke="#ff0000" stroke-width="6.5"/>
<text x="366.8" y="85" textLength="222" lengthAdjust="spacing" font-family="Liberation Serif, serif" font-size="59.5" fill="#000">Method 1</text>
<path d="M614.9,59.4h6.2M625.7,59.4h6.2M636.5,59.4h6.2M647.2,59.4h6.2M658.0,59.4h6.2M668.8,59.4h6.2M679.6,59.4h6.2M690.4,59.4h6.2M701.1,59.4h6.2M711.9,59.4h6.2" stroke="#0000ff" stroke-width="6.5"/>
<text x="728.8" y="85" textLength="225" lengthAdjust="spacing" font-family="Liberation Serif, serif" font-size="59.5" fill="#000">Method 2</text>
<path d="M976.8,59.4h22.2M1019.9,59.4h22.1M1062.8,59.4h23.1" stroke="#000" stroke-width="6.5"/>
<text x="1092" y="85" textLength="216" lengthAdjust="spacing" font-family="Liberation Serif, serif" font-size="59.5" fill="#000">reference</text>
</svg>
</body></html>
